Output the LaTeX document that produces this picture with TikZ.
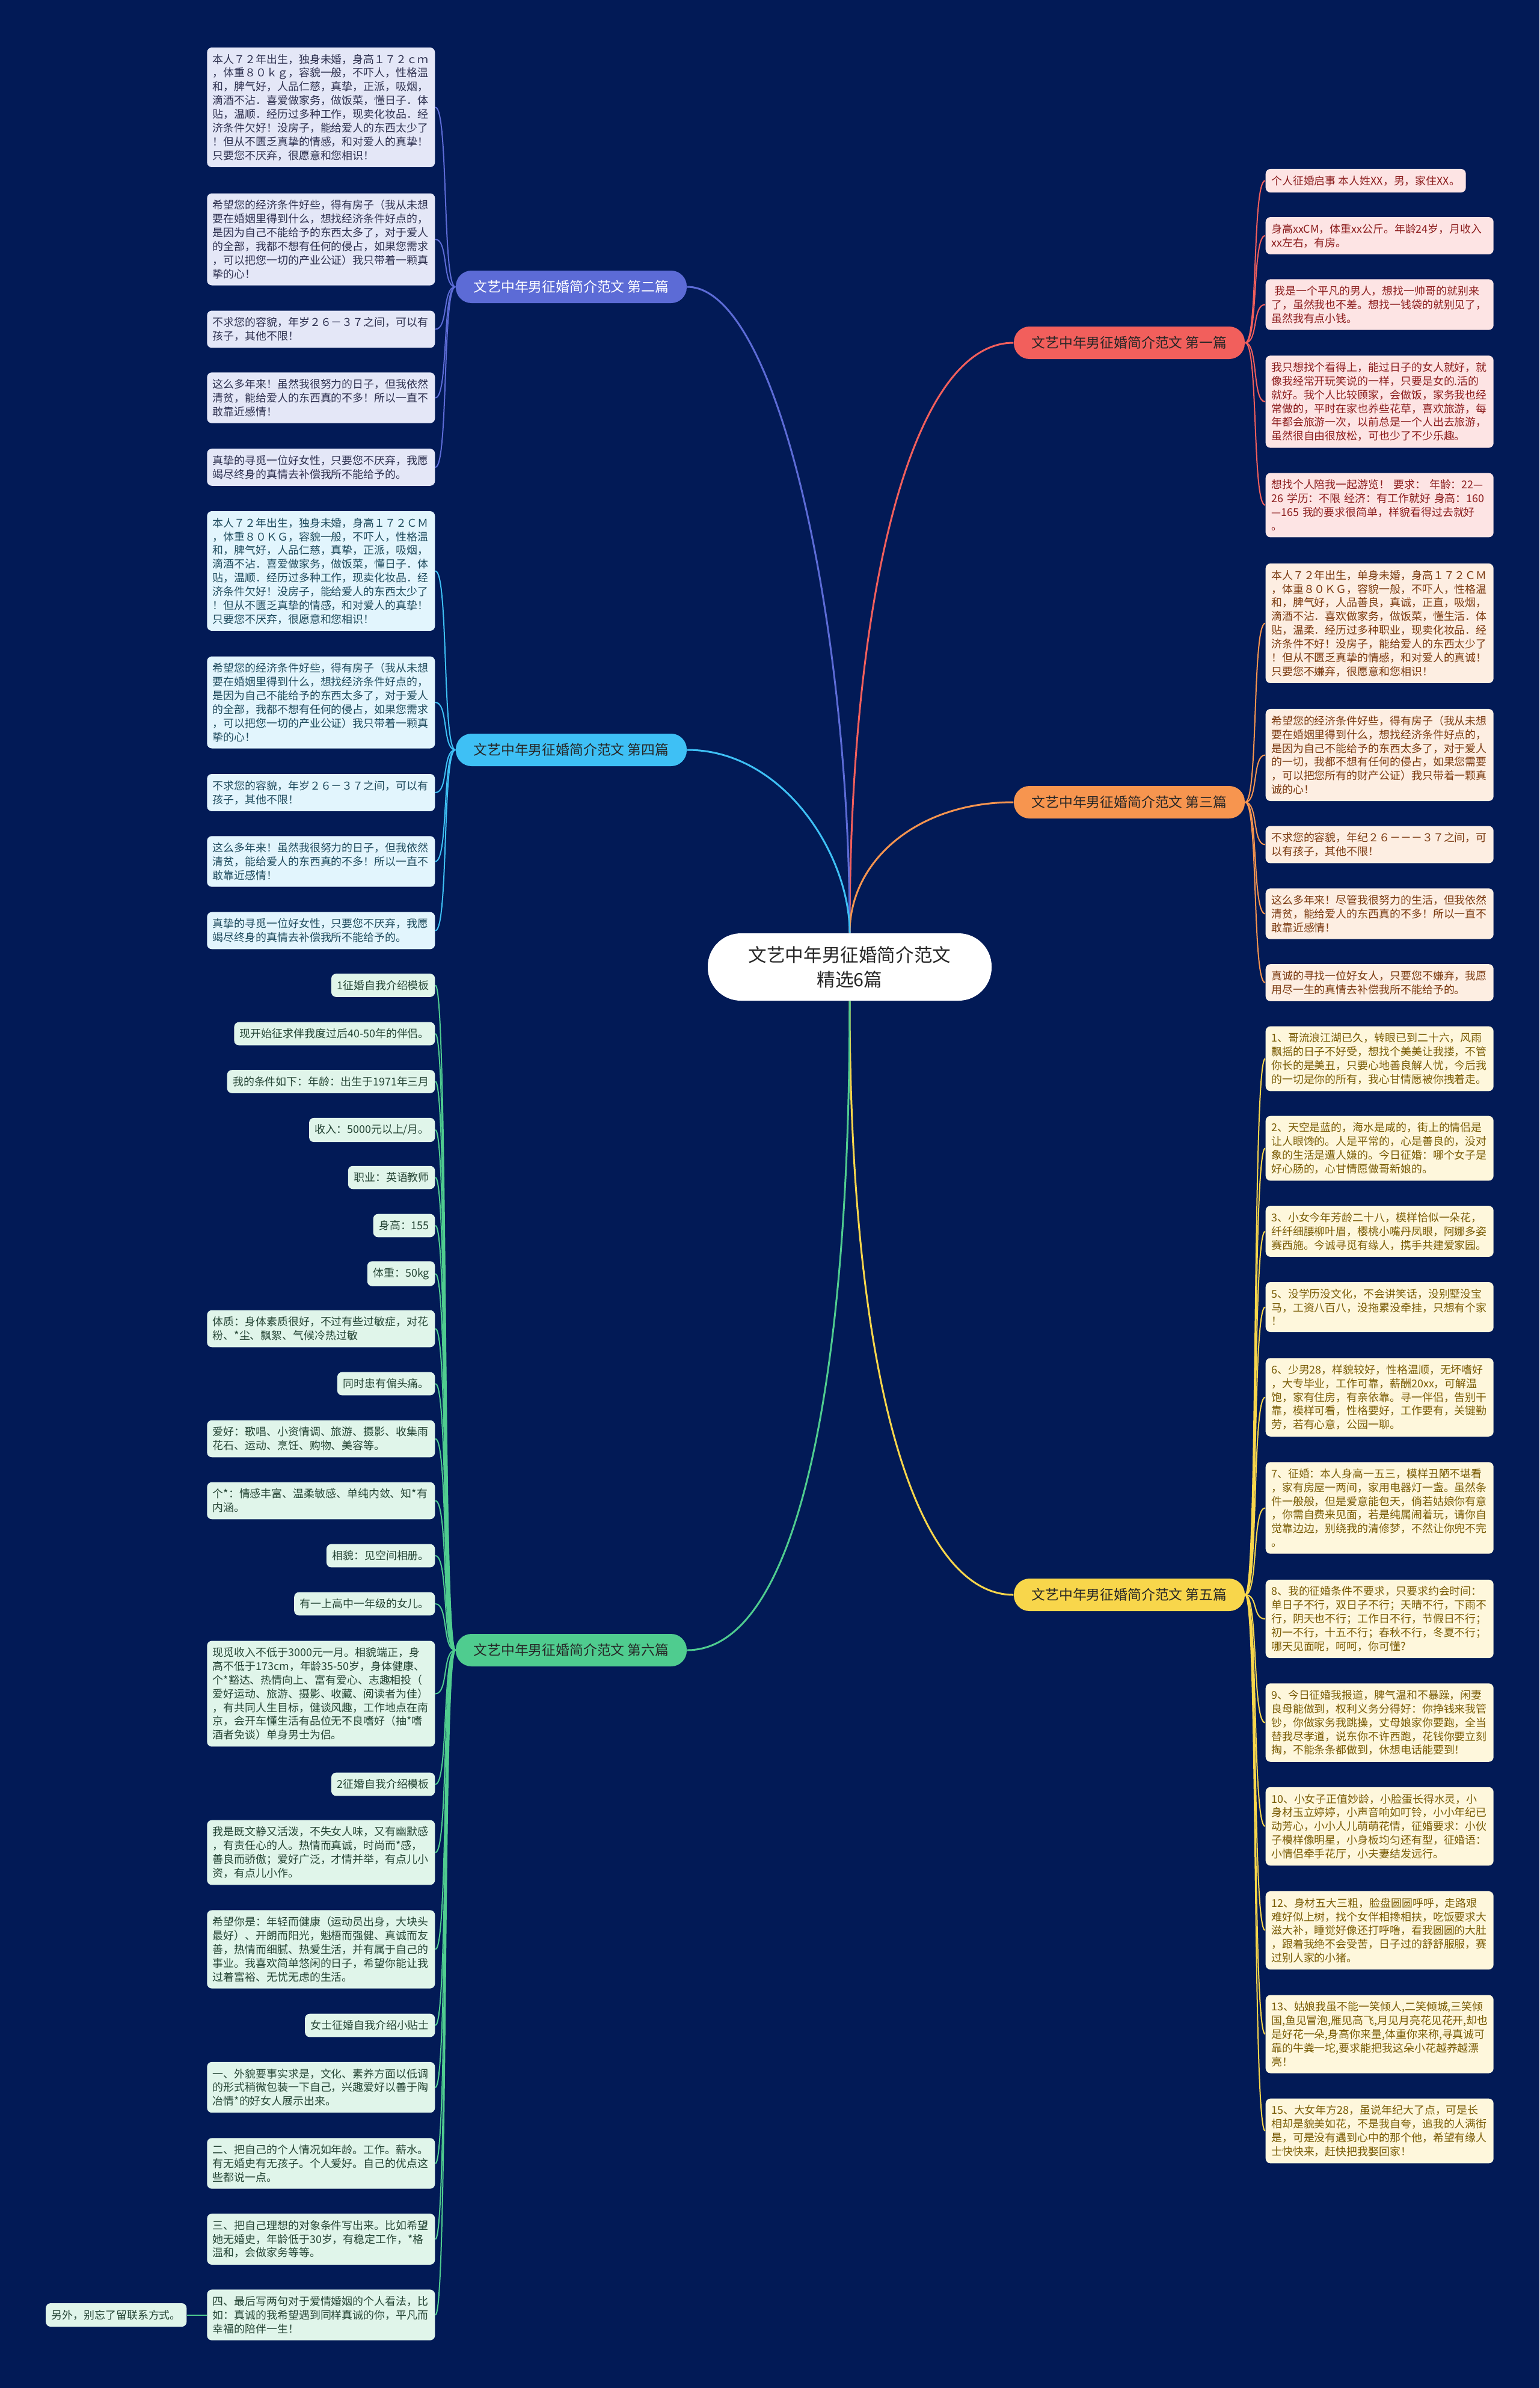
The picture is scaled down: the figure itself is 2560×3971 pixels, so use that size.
\documentclass[tikz,border=0pt]{standalone}
\usepackage{fontspec}
\setmainfont{Noto Sans CJK SC}
\usepackage{xcolor}
\definecolor{bg}{HTML}{021A56}
\definecolor{c1}{HTML}{F25F5C}
\definecolor{c2}{HTML}{5C6BD6}
\definecolor{c3}{HTML}{F7954F}
\definecolor{c4}{HTML}{3EC0F5}
\definecolor{c5}{HTML}{F8D64B}
\definecolor{c6}{HTML}{4FCC8F}
\definecolor{f1}{HTML}{FDE4E4}
\definecolor{f2}{HTML}{E4E7F7}
\definecolor{f3}{HTML}{FDEEE2}
\definecolor{f4}{HTML}{E2F5FD}
\definecolor{f5}{HTML}{FEF7DC}
\definecolor{f6}{HTML}{E0F5EA}
\definecolor{t1}{HTML}{8C1D1D}
\definecolor{t2}{HTML}{2E3150}
\definecolor{t3}{HTML}{7B3A10}
\definecolor{t4}{HTML}{1F4B5E}
\definecolor{t5}{HTML}{7A5C05}
\definecolor{t6}{HTML}{254535}

\begin{document}
\begin{tikzpicture}[x=0.1mm,y=-0.1mm]
% Stili
\tikzstyle{leaf} = [
    rounded corners=0.8mm,
    text width=36mm,
    align=left,
    inner xsep=0.95mm,
    inner ysep=1.1mm,
    font=\fontsize{5.1}{6.5}\selectfont
]
\tikzstyle{short} = [leaf, text width=]
\tikzstyle{branch} = [
    rounded corners=2.6mm,
    minimum width=38.4mm,
    minimum height=5.4mm,
    inner sep=0pt,
    text=black!85,
    font=\fontsize{6.5}{8}\selectfont
]
\tikzstyle{toL} = [to path={.. controls +(-22,0) and +(22,0) .. (\tikztotarget)}]
\tikzstyle{toR} = [to path={.. controls +(22,0) and +(-22,0) .. (\tikztotarget)}]

\fill[bg] (0,0) rectangle (2560,3971);
\useasboundingbox (0,0) rectangle (2560,3971);

% Centro e rami
\node[fill=white, rounded corners=5.5mm, minimum width=47.2mm, minimum height=11.2mm,
      align=center, text=black!85, font=\fontsize{8.7}{11.7}\selectfont] (root) at (1413,1608)
{文艺中年男征婚简介范文\\精选6篇};

\node[branch, fill=c1] (p1) at (1878,570)
{文艺中年男征婚简介范文 第一篇};
\node[branch, fill=c2, text=white] (p2) at (950,477)
{文艺中年男征婚简介范文 第二篇};
\node[branch, fill=c3] (p3) at (1878,1334)
{文艺中年男征婚简介范文 第三篇};
\node[branch, fill=c4] (p4) at (950,1247)
{文艺中年男征婚简介范文 第四篇};
\node[branch, fill=c5] (p5) at (1878,2652)
{文艺中年男征婚简介范文 第五篇};
\node[branch, fill=c6] (p6) at (950,2744)
{文艺中年男征婚简介范文 第六篇};

% Foglie:第二篇
\node[leaf, fill=f2, text=t2, anchor=east] (p2a) at (724,178.5)
{本人７２年出生，独身未婚，身高１７２ｃｍ\\，体重８０ｋｇ，容貌一般，不吓人，性格温\\和，脾气好，人品仁慈，真挚，正派，吸烟，\\滴酒不沾．喜爱做家务，做饭菜，懂日子．体\\贴，温顺．经历过多种工作，现卖化妆品．经\\济条件欠好！没房子，能给爱人的东西太少了\\！但从不匮乏真挚的情感，和对爱人的真挚！\\只要您不厌弃，很愿意和您相识！};
\node[leaf, fill=f2, text=t2, anchor=east] (p2b) at (724,398)
{希望您的经济条件好些，得有房子（我从未想\\要在婚姻里得到什么，想找经济条件好点的，\\是因为自己不能给予的东西太多了，对于爱人\\的全部，我都不想有任何的侵占，如果您需求\\，可以把您一切的产业公证）我只带着一颗真\\挚的心！};
\node[leaf, fill=f2, text=t2, anchor=east] (p2c) at (724,547.5)
{不求您的容貌，年岁２６－３７之间，可以有\\孩子，其他不限！};
\node[leaf, fill=f2, text=t2, anchor=east] (p2d) at (724,661.5)
{这么多年来！虽然我很努力的日子，但我依然\\清贫，能给爱人的东西真的不多！所以一直不\\敢靠近感情！};
\node[leaf, fill=f2, text=t2, anchor=east] (p2e) at (724,777)
{真挚的寻觅一位好女性，只要您不厌弃，我愿\\竭尽终身的真情去补偿我所不能给予的。};

% Foglie: 第四篇
\node[leaf, fill=f4, text=t4, anchor=east] (p4a) at (724,949.5)
{本人７２年出生，独身未婚，身高１７２ＣＭ\\，体重８０ＫＧ，容貌一般，不吓人，性格温\\和，脾气好，人品仁慈，真挚，正派，吸烟，\\滴酒不沾．喜爱做家务，做饭菜，懂日子．体\\贴，温顺．经历过多种工作，现卖化妆品．经\\济条件欠好！没房子，能给爱人的东西太少了\\！但从不匮乏真挚的情感，和对爱人的真挚！\\只要您不厌弃，很愿意和您相识！};
\node[leaf, fill=f4, text=t4, anchor=east] (p4b) at (724,1168)
{希望您的经济条件好些，得有房子（我从未想\\要在婚姻里得到什么，想找经济条件好点的，\\是因为自己不能给予的东西太多了，对于爱人\\的全部，我都不想有任何的侵占，如果您需求\\，可以把您一切的产业公证）我只带着一颗真\\挚的心！};
\node[leaf, fill=f4, text=t4, anchor=east] (p4c) at (724,1318)
{不求您的容貌，年岁２６－３７之间，可以有\\孩子，其他不限！};
\node[leaf, fill=f4, text=t4, anchor=east] (p4d) at (724,1432.5)
{这么多年来！虽然我很努力的日子，但我依然\\清贫，能给爱人的东西真的不多！所以一直不\\敢靠近感情！};
\node[leaf, fill=f4, text=t4, anchor=east] (p4e) at (724,1547.5)
{真挚的寻觅一位好女性，只要您不厌弃，我愿\\竭尽终身的真情去补偿我所不能给予的。};

% Foglie: 第六篇
\node[short, fill=f6, text=t6, anchor=east] (p6a) at (724,1638.5)
{1征婚自我介绍模板};
\node[short, fill=f6, text=t6, anchor=east] (p6b) at (724,1719)
{现开始征求伴我度过后40-50年的伴侣。};
\node[short, fill=f6, text=t6, anchor=east] (p6c) at (724,1798.5)
{我的条件如下：年龄：出生于1971年三月};
\node[short, fill=f6, text=t6, anchor=east] (p6d) at (724,1879)
{收入：5000元以上/月。};
\node[short, fill=f6, text=t6, anchor=east] (p6e) at (724,1958)
{职业：英语教师};
\node[short, fill=f6, text=t6, anchor=east] (p6f) at (724,2038)
{身高：155};
\node[short, fill=f6, text=t6, anchor=east] (p6g) at (724,2118)
{体重：50kg};
\node[leaf, fill=f6, text=t6, anchor=east] (p6h) at (724,2209.5)
{体质：身体素质很好，不过有些过敏症，对花\\粉、*尘、飘絮、气候冷热过敏};
\node[short, fill=f6, text=t6, anchor=east] (p6i) at (724,2301)
{同时患有偏头痛。};
\node[leaf, fill=f6, text=t6, anchor=east] (p6j) at (724,2392.5)
{爱好：歌唱、小资情调、旅游、摄影、收集雨\\花石、运动、烹饪、购物、美容等。};
\node[leaf, fill=f6, text=t6, anchor=east] (p6k) at (724,2495.5)
{个*：情感丰富、温柔敏感、单纯内敛、知*有\\内涵。};
\node[short, fill=f6, text=t6, anchor=east] (p6l) at (724,2587)
{相貌：见空间相册。};
\node[short, fill=f6, text=t6, anchor=east] (p6m) at (724,2667)
{有一上高中一年级的女儿。};
\node[leaf, fill=f6, text=t6, anchor=east] (p6n) at (724,2816.5)
{现觅收入不低于3000元一月。相貌端正，身\\高不低于173cm，年龄35-50岁，身体健康、\\个*豁达、热情向上、富有爱心、志趣相投（\\爱好运动、旅游、摄影、收藏、阅读者为佳）\\，有共同人生目标，健谈风趣，工作地点在南\\京，会开车懂生活有品位无不良嗜好（抽*嗜\\酒者免谈）单身男士为侣。};
\node[short, fill=f6, text=t6, anchor=east] (p6o) at (724,2967)
{2征婚自我介绍模板};
\node[leaf, fill=f6, text=t6, anchor=east] (p6p) at (724,3080.5)
{我是既文静又活泼，不失女人味，又有幽默感\\，有责任心的人。热情而真诚，时尚而*感，\\善良而骄傲；爱好广泛，才情并举，有点儿小\\资，有点儿小作。};
\node[leaf, fill=f6, text=t6, anchor=east] (p6q) at (724,3241.5)
{希望你是：年轻而健康（运动员出身，大块头\\最好）、开朗而阳光，魁梧而强健、真诚而友\\善，热情而细腻、热爱生活，并有属于自己的\\事业。我喜欢简单悠闲的日子，希望你能让我\\过着富裕、无忧无虑的生活。};
\node[short, fill=f6, text=t6, anchor=east] (p6r) at (724,3368)
{女士征婚自我介绍小贴士};
\node[leaf, fill=f6, text=t6, anchor=east] (p6s) at (724,3471)
{一、外貌要事实求是，文化、素养方面以低调\\的形式稍微包装一下自己，兴趣爱好以善于陶\\冶情*的好女人展示出来。};
\node[leaf, fill=f6, text=t6, anchor=east] (p6t) at (724,3597.5)
{二、把自己的个人情况如年龄。工作。薪水。\\有无婚史有无孩子。个人爱好。自己的优点这\\些都说一点。};
\node[leaf, fill=f6, text=t6, anchor=east] (p6u) at (724,3723.5)
{三、把自己理想的对象条件写出来。比如希望\\她无婚史，年龄低于30岁，有稳定工作，*格\\温和，会做家务等等。};
\node[leaf, fill=f6, text=t6, anchor=east] (p6v) at (724,3849.5)
{四、最后写两句对于爱情婚姻的个人看法，比\\如：真诚的我希望遇到同样真诚的你，平凡而\\幸福的陪伴一生！};
\node[short, fill=f6, text=t6, anchor=east] (p6w) at (311,3849.5)
{另外，别忘了留联系方式。};

% Foglie: 第一篇
\node[short, fill=f1, text=t1, anchor=west] (p1a) at (2104,300.5)
{个人征婚启事 本人姓XX，男，家住XX。};
\node[leaf, fill=f1, text=t1, anchor=west] (p1b) at (2104,392)
{身高xxCM，体重xx公斤。年龄24岁，月收入\\xx左右，有房。};
\node[leaf, fill=f1, text=t1, anchor=west] (p1c) at (2104,506.5)
{\hspace*{0.3em}我是一个平凡的男人，想找一帅哥的就别来\\了，虽然我也不差。想找一钱袋的就别见了，\\虽然我有点小钱。};
\node[leaf, fill=f1, text=t1, anchor=west] (p1d) at (2104,668)
{我只想找个看得上，能过日子的女人就好，就\\像我经常开玩笑说的一样，只要是女的.活的\\就好。我个人比较顾家，会做饭，家务我也经\\常做的，平时在家也养些花草，喜欢旅游，每\\年都会旅游一次，以前总是一个人出去旅游，\\虽然很自由很放松，可也少了不少乐趣。};
\node[leaf, fill=f1, text=t1, anchor=west] (p1e) at (2104,840)
{想找个人陪我一起游览！~要求：~年龄：22—\\26~学历：不限~经济：有工作就好~身高：160\\—165~我的要求很简单，样貌看得过去就好\\。};

% Foglie: 第三篇
\node[leaf, fill=f3, text=t3, anchor=west] (p3a) at (2104,1036.5)
{本人７２年出生，单身未婚，身高１７２ＣＭ\\，体重８０ＫＧ，容貌一般，不吓人，性格温\\和，脾气好，人品善良，真诚，正直，吸烟，\\滴酒不沾．喜欢做家务，做饭菜，懂生活．体\\贴，温柔．经历过多种职业，现卖化妆品．经\\济条件不好！没房子，能给爱人的东西太少了\\！但从不匮乏真挚的情感，和对爱人的真诚！\\只要您不嫌弃，很愿意和您相识！};
\node[leaf, fill=f3, text=t3, anchor=west] (p3b) at (2104,1255.5)
{希望您的经济条件好些，得有房子（我从未想\\要在婚姻里得到什么，想找经济条件好点的，\\是因为自己不能给予的东西太多了，对于爱人\\的一切，我都不想有任何的侵占，如果您需要\\，可以把您所有的财产公证）我只带着一颗真\\诚的心！};
\node[leaf, fill=f3, text=t3, anchor=west] (p3c) at (2104,1404.5)
{不求您的容貌，年纪２６－－－３７之间，可\\以有孩子，其他不限！};
\node[leaf, fill=f3, text=t3, anchor=west] (p3d) at (2104,1519.5)
{这么多年来！尽管我很努力的生活，但我依然\\清贫，能给爱人的东西真的不多！所以一直不\\敢靠近感情！};
\node[leaf, fill=f3, text=t3, anchor=west] (p3e) at (2104,1634)
{真诚的寻找一位好女人，只要您不嫌弃，我愿\\用尽一生的真情去补偿我所不能给予的。};

% Foglie: 第五篇
\node[leaf, fill=f5, text=t5, anchor=west] (p5a) at (2104,1760.5)
{1、哥流浪江湖已久，转眼已到二十六，风雨\\飘摇的日子不好受，想找个美美让我搂，不管\\你长的是美丑，只要心地善良解人忧，今后我\\的一切是你的所有，我心甘情愿被你拽着走。};
\node[leaf, fill=f5, text=t5, anchor=west] (p5b) at (2104,1909.5)
{2、天空是蓝的，海水是咸的，街上的情侣是\\让人眼馋的。人是平常的，心是善良的，没对\\象的生活是遭人嫌的。今日征婚：哪个女子是\\好心肠的，心甘情愿做哥新娘的。};
\node[leaf, fill=f5, text=t5, anchor=west] (p5c) at (2104,2047.5)
{3、小女今年芳龄二十八，模样恰似一朵花，\\纤纤细腰柳叶眉，樱桃小嘴丹凤眼，阿娜多姿\\赛西施。今诚寻觅有缘人，携手共建爱家园。};
\node[leaf, fill=f5, text=t5, anchor=west] (p5d) at (2104,2173.5)
{5、没学历没文化，不会讲笑话，没别墅没宝\\马，工资八百八，没拖累没牵挂，只想有个家\\！};
\node[leaf, fill=f5, text=t5, anchor=west] (p5e) at (2104,2323.5)
{6、少男28，样貌较好，性格温顺，无坏嗜好\\，大专毕业，工作可靠，薪酬20xx，可解温\\饱，家有住房，有亲依靠。寻一伴侣，告别干\\靠，模样可看，性格要好，工作要有，关键勤\\劳，若有心意，公园一聊。};
\node[leaf, fill=f5, text=t5, anchor=west] (p5f) at (2104,2507.5)
{7、征婚：本人身高一五三，模样丑陋不堪看\\，家有房屋一两间，家用电器灯一盏。虽然条\\件一般般，但是爱意能包天，倘若姑娘你有意\\，你需自费来见面，若是纯属闹着玩，请你自\\觉靠边边，别绕我的清修梦，不然让你兜不完\\。};
\node[leaf, fill=f5, text=t5, anchor=west] (p5g) at (2104,2692)
{8、我的征婚条件不要求，只要求约会时间：\\单日子不行，双日子不行；天晴不行，下雨不\\行，阴天也不行；工作日不行，节假日不行；\\初一不行，十五不行；春秋不行，冬夏不行；\\哪天见面呢，呵呵，你可懂?};
\node[leaf, fill=f5, text=t5, anchor=west] (p5h) at (2104,2864.5)
{9、今日征婚我报道，脾气温和不暴躁，闲妻\\良母能做到，权利义务分得好：你挣钱来我管\\钞，你做家务我跳操，丈母娘家你要跑，全当\\替我尽孝道，说东你不许西跑，花钱你要立刻\\掏，不能条条都做到，休想电话能要到！};
\node[leaf, fill=f5, text=t5, anchor=west] (p5i) at (2104,3037)
{10、小女子正值妙龄，小脸蛋长得水灵，小\\身材玉立婷婷，小声音响如叮铃，小小年纪已\\动芳心，小小人儿萌萌花情，征婚要求：小伙\\子模样像明星，小身板均匀还有型，征婚语：\\小情侣牵手花厅，小夫妻结发远行。};
\node[leaf, fill=f5, text=t5, anchor=west] (p5j) at (2104,3210)
{12、身材五大三粗，脸盘圆圆呼呼，走路艰\\难好似上树，找个女伴相搀相扶，吃饭要求大\\滋大补，睡觉好像还打呼噜，看我圆圆的大肚\\，跟着我绝不会受苦，日子过的舒舒服服，赛\\过别人家的小猪。};
\node[leaf, fill=f5, text=t5, anchor=west] (p5k) at (2104,3382.5)
{13、姑娘我虽不能一笑倾人,二笑倾城,三笑倾\\国,鱼见冒泡,雁见高飞,月见月亮花见花开,却也\\是好花一朵,身高你来量,体重你来称,寻真诚可\\靠的牛粪一坨,要求能把我这朵小花越养越漂\\亮！};
\node[leaf, fill=f5, text=t5, anchor=west] (p5l) at (2104,3543.5)
{15、大女年方28，虽说年纪大了点，可是长\\相却是貌美如花，不是我自夸，追我的人满街\\是，可是没有遇到心中的那个他，希望有缘人\\士快快来，赶快把我娶回家！};

% Archi dal centro
\draw[c1, line width=0.3mm] (root.north) .. controls +(0,-560) and +(-170,0) .. (p1.west);
\draw[c2, line width=0.3mm] (root.north) .. controls +(0,-520) and +(150,0) .. (p2.east);
\draw[c3, line width=0.3mm] (root.north) .. controls +(0,-120) and +(-160,0) .. (p3.west);
\draw[c4, line width=0.3mm] (root.north) .. controls +(0,-130) and +(160,0) .. (p4.east);
\draw[c5, line width=0.3mm] (root.south) .. controls +(0,600) and +(-170,0) .. (p5.west);
\draw[c6, line width=0.3mm] (root.south) .. controls +(0,650) and +(180,0) .. (p6.east);

% Archi verso le foglie
\draw[c2, line width=0.2mm] (p2.west) to[toL] (p2a.east);
\draw[c2, line width=0.2mm] (p2.west) to[toL] (p2b.east);
\draw[c2, line width=0.2mm] (p2.west) to[toL] (p2c.east);
\draw[c2, line width=0.2mm] (p2.west) to[toL] (p2d.east);
\draw[c2, line width=0.2mm] (p2.west) to[toL] (p2e.east);

\draw[c4, line width=0.2mm] (p4.west) to[toL] (p4a.east);
\draw[c4, line width=0.2mm] (p4.west) to[toL] (p4b.east);
\draw[c4, line width=0.2mm] (p4.west) to[toL] (p4c.east);
\draw[c4, line width=0.2mm] (p4.west) to[toL] (p4d.east);
\draw[c4, line width=0.2mm] (p4.west) to[toL] (p4e.east);

\draw[c6, line width=0.2mm] (p6.west) to[toL] (p6a.east);
\draw[c6, line width=0.2mm] (p6.west) to[toL] (p6b.east);
\draw[c6, line width=0.2mm] (p6.west) to[toL] (p6c.east);
\draw[c6, line width=0.2mm] (p6.west) to[toL] (p6d.east);
\draw[c6, line width=0.2mm] (p6.west) to[toL] (p6e.east);
\draw[c6, line width=0.2mm] (p6.west) to[toL] (p6f.east);
\draw[c6, line width=0.2mm] (p6.west) to[toL] (p6g.east);
\draw[c6, line width=0.2mm] (p6.west) to[toL] (p6h.east);
\draw[c6, line width=0.2mm] (p6.west) to[toL] (p6i.east);
\draw[c6, line width=0.2mm] (p6.west) to[toL] (p6j.east);
\draw[c6, line width=0.2mm] (p6.west) to[toL] (p6k.east);
\draw[c6, line width=0.2mm] (p6.west) to[toL] (p6l.east);
\draw[c6, line width=0.2mm] (p6.west) to[toL] (p6m.east);
\draw[c6, line width=0.2mm] (p6.west) to[toL] (p6n.east);
\draw[c6, line width=0.2mm] (p6.west) to[toL] (p6o.east);
\draw[c6, line width=0.2mm] (p6.west) to[toL] (p6p.east);
\draw[c6, line width=0.2mm] (p6.west) to[toL] (p6q.east);
\draw[c6, line width=0.2mm] (p6.west) to[toL] (p6r.east);
\draw[c6, line width=0.2mm] (p6.west) to[toL] (p6s.east);
\draw[c6, line width=0.2mm] (p6.west) to[toL] (p6t.east);
\draw[c6, line width=0.2mm] (p6.west) to[toL] (p6u.east);
\draw[c6, line width=0.2mm] (p6.west) to[toL] (p6v.east);
\draw[c6, line width=0.2mm] (p6v.west) -- (p6w.east);

\draw[c1, line width=0.2mm] (p1.east) to[toR] (p1a.west);
\draw[c1, line width=0.2mm] (p1.east) to[toR] (p1b.west);
\draw[c1, line width=0.2mm] (p1.east) to[toR] (p1c.west);
\draw[c1, line width=0.2mm] (p1.east) to[toR] (p1d.west);
\draw[c1, line width=0.2mm] (p1.east) to[toR] (p1e.west);

\draw[c3, line width=0.2mm] (p3.east) to[toR] (p3a.west);
\draw[c3, line width=0.2mm] (p3.east) to[toR] (p3b.west);
\draw[c3, line width=0.2mm] (p3.east) to[toR] (p3c.west);
\draw[c3, line width=0.2mm] (p3.east) to[toR] (p3d.west);
\draw[c3, line width=0.2mm] (p3.east) to[toR] (p3e.west);

\draw[c5, line width=0.2mm] (p5.east) to[toR] (p5a.west);
\draw[c5, line width=0.2mm] (p5.east) to[toR] (p5b.west);
\draw[c5, line width=0.2mm] (p5.east) to[toR] (p5c.west);
\draw[c5, line width=0.2mm] (p5.east) to[toR] (p5d.west);
\draw[c5, line width=0.2mm] (p5.east) to[toR] (p5e.west);
\draw[c5, line width=0.2mm] (p5.east) to[toR] (p5f.west);
\draw[c5, line width=0.2mm] (p5.east) to[toR] (p5g.west);
\draw[c5, line width=0.2mm] (p5.east) to[toR] (p5h.west);
\draw[c5, line width=0.2mm] (p5.east) to[toR] (p5i.west);
\draw[c5, line width=0.2mm] (p5.east) to[toR] (p5j.west);
\draw[c5, line width=0.2mm] (p5.east) to[toR] (p5k.west);
\draw[c5, line width=0.2mm] (p5.east) to[toR] (p5l.west);

\end{tikzpicture}
\end{document}
